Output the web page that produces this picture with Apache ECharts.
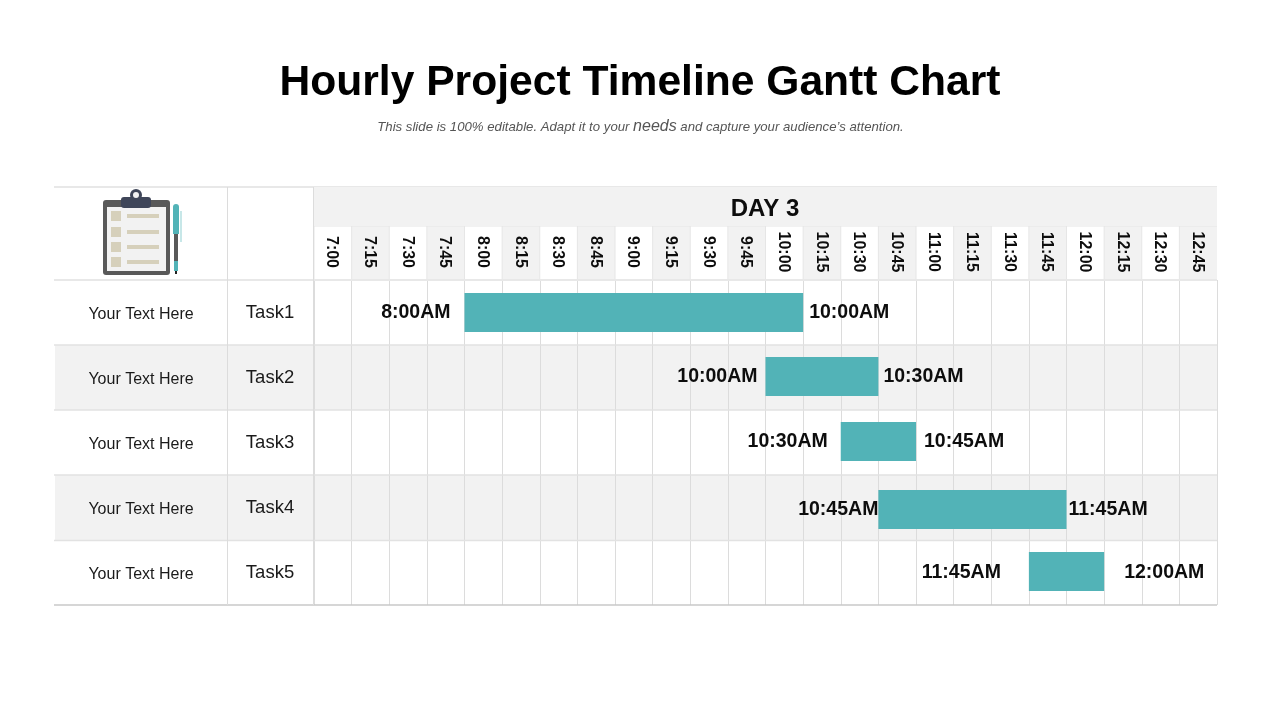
<!DOCTYPE html>
<html>
<head>
<meta charset="utf-8">
<style>html,body{margin:0;padding:0;background:#fff}#c{width:1280px;height:720px}</style>
<script src="https://cdn.jsdelivr.net/npm/echarts@6/dist/echarts.min.js"></script>
</head>
<body>
<div id="c"></div>
<script>
const timeSlots = ['7:00','7:15','7:30','7:45','8:00','8:15','8:30','8:45','9:00','9:15','9:30','9:45','10:00','10:15','10:30','10:45','11:00','11:15','11:30','11:45','12:00','12:15','12:30','12:45'];
const tasks = ['Task1','Task2','Task3','Task4','Task5'];
const notes = ['Your Text Here','Your Text Here','Your Text Here','Your Text Here','Your Text Here'];
const startSlots = ['8:00','10:00','10:30','10:45','11:45'];
const endSlots = ['10:00','10:30','10:45','11:45','12:00'];

// Layout and style (separate from the data)
const FONT = '"Liberation Sans", Arial, sans-serif';
const TEXT = '#0d0d0d', BAND = '#f2f2f2', LINE = '#dcdcdc', TEAL = '#52b3b7';
const G = {left: 314, right: 1217, top: 280, bottom: 605, headTop: 187, headMid: 226, tableLeft: 54};
const barNudge = [0, -1, -1, 2, -1];
const startGap = [14, 8, 13, 0, 28];
const endGap = [6, 5, 8, 2, 20];
const labelNudge = [0, -1, -1, 2, 0];

const ganttData = tasks.map((t, i) => [timeSlots.indexOf(startSlots[i]), timeSlots.indexOf(endSlots[i]), i]);

function renderBar(params, api) {
  const row = api.value(2);
  const unit = api.size([1, 1]);
  const a = api.coord([api.value(0), row]);
  const b = api.coord([api.value(1), row]);
  const x0 = a[0] - unit[0] / 2, x1 = b[0] + unit[0] / 2;
  const h = 39, cy = a[1] + barNudge[row], ly = a[1] + labelNudge[row];
  const lab = {fontFamily: FONT, fontWeight: 'bold', fontSize: 19.5, fill: TEXT, verticalAlign: 'middle'};
  return {type: 'group', children: [
    {type: 'rect', shape: {x: x0, y: cy - h / 2, width: x1 - x0, height: h}, style: {fill: TEAL}},
    {type: 'text', style: Object.assign({}, lab, {x: x0 - startGap[row], y: ly, text: startSlots[row] + 'AM', align: 'right'})},
    {type: 'text', style: Object.assign({}, lab, {x: x1 + endGap[row], y: ly, text: endSlots[row] + 'AM', align: 'left'})}
  ]};
}

function renderRowEdge(params, api) {
  const row = api.value(0);
  const unit = api.size([1, 1]);
  const c = api.coord([0, row]);
  const top = c[1] - unit[1] / 2, children = [];
  if (row % 2 === 1) {
    children.push({type: 'rect', shape: {x: G.tableLeft + 1, y: top, width: G.left - G.tableLeft - 1, height: unit[1]}, style: {fill: BAND}});
  }
  return {type: 'group', children};
}

function renderHeadCell(params, api) {
  const i = api.value(0);
  const unit = api.size([1, 1]);
  const c = api.coord([i, 0]);
  const x = c[0] - unit[0] / 2;
  const children = [];
  if (i % 2 === 1) {
    children.push({type: 'rect', shape: {x, y: G.headMid, width: unit[0], height: G.top - G.headMid}, style: {fill: BAND}});
  }
  children.push({type: 'line', shape: {x1: x, y1: G.headMid, x2: x, y2: G.top}, style: {stroke: '#e6e6e6', lineWidth: 1}});
  return {type: 'group', children};
}

const hLine = (x1, y, x2, stroke, lineWidth) => ({type: 'line', z: 5, shape: {x1, y1: y, x2, y2: y}, style: {stroke, lineWidth}});
const vLine = (x, y1, y2) => ({type: 'line', z: 5, shape: {x1: x, y1, x2: x, y2}, style: {stroke: LINE, lineWidth: 1}});
const box = (x, y, width, height, fill, r) => ({type: 'rect', z: 6, shape: {x, y, width, height, r: r || 0}, style: {fill}});

const icon = [
  box(103, 200, 67, 75, '#595959', 3),
  box(107, 207, 59, 64, '#f2f2f2'),
  {type: 'circle', z: 6, shape: {cx: 136, cy: 195, r: 6}, style: {fill: '#3f4659'}},
  box(121, 197, 30, 11, '#3f4659', 3),
  {type: 'circle', z: 7, shape: {cx: 136, cy: 195, r: 3}, style: {fill: '#f2f2f2'}},
  box(111, 211, 10, 10, '#d6d0bb'), box(111, 227, 10, 10, '#d6d0bb'),
  box(111, 242, 10, 10, '#d6d0bb'), box(111, 257, 10, 10, '#d6d0bb'),
  box(127, 214, 32, 4, '#d6d0bb'), box(127, 230, 32, 4, '#d6d0bb'),
  box(127, 245, 32, 4, '#d6d0bb'), box(127, 260, 32, 4, '#d6d0bb'),
  box(173, 204, 6, 30, TEAL, [3, 3, 0, 0]),
  box(174, 234, 4, 27, '#595959'),
  box(174, 261, 4, 10, TEAL),
  box(175, 271, 2, 3, '#222'),
  box(180.5, 211, 1, 31, '#8fd0d2')
];

const chart = echarts.init(document.getElementById('c'), null, {renderer: 'canvas'});
chart.setOption({
  animation: false,
  backgroundColor: '#fff',
  grid: {left: G.left, top: G.top, width: G.right - G.left, height: G.bottom - G.top, containLabel: false},
  xAxis: {
    type: 'category', position: 'top', data: timeSlots, boundaryGap: true, z: 3,
    axisLine: {show: false}, axisTick: {show: false},
    axisLabel: {interval: 0, rotate: 90, margin: 28, align: 'center', verticalAlign: 'middle',
      formatter: v => '{t|' + v + '}',
      rich: {t: {fontFamily: FONT, fontWeight: 'bold', fontSize: 16, color: TEXT, padding: [2, 0, 0, 0]}}},
    splitLine: {show: true, interval: 0, lineStyle: {color: LINE, width: 1}}
  },
  yAxis: [
    {type: 'category', inverse: true, data: tasks, position: 'left', z: 3,
      axisLine: {show: false}, axisTick: {show: false},
      axisLabel: {interval: 0, margin: 44, align: 'center', formatter: v => '{t|' + v + '}',
        rich: {t: {fontFamily: FONT, fontSize: 18.5, color: '#1a1a1a', padding: [1, 0, 0, 0]}}},
      splitLine: {show: false},
      splitArea: {show: true, interval: 0, areaStyle: {color: ['#ffffff', BAND]}}},
    {type: 'category', inverse: true, data: notes, position: 'left', offset: 173, z: 3,
      axisLine: {show: false}, axisTick: {show: false},
      axisLabel: {interval: 0, margin: 0, align: 'center', formatter: v => '{t|' + v + '}',
        rich: {t: {fontFamily: FONT, fontSize: 16, color: '#1a1a1a', padding: [4, 0, 0, 0]}}},
      splitLine: {show: false}}
  ],
  graphic: [
    {type: 'text', z: 6, style: {x: 640, y: 83, text: 'Hourly Project Timeline Gantt Chart', align: 'center', verticalAlign: 'middle',
      fontFamily: FONT, fontWeight: 'bold', fontSize: 42.6, fill: '#000'}},
    {type: 'text', z: 6, style: {x: 640.5, y: 127, align: 'center', verticalAlign: 'middle',
      text: '{a|This slide is 100% editable. Adapt it to your }{b|needs}{a| and capture your audience\u2019s attention.}',
      rich: {a: {fontFamily: FONT, fontStyle: 'italic', fontSize: 13.2, fill: '#555', color: '#555'},
             b: {fontFamily: FONT, fontStyle: 'italic', fontSize: 16, fill: '#555', color: '#555'}}}},
    box(G.left, G.headTop, G.right - G.left, G.headMid - G.headTop, BAND),
    {type: 'text', z: 6, style: {x: 765, y: 209, text: 'DAY 3', align: 'center', verticalAlign: 'middle',
      fontFamily: FONT, fontWeight: 'bold', fontSize: 24, fill: TEXT}},
    hLine(G.tableLeft, G.headTop, G.right, '#e8e8e8', 2),
    hLine(G.left, G.headMid, G.right, '#e6e6e6', 1),
    hLine(G.tableLeft, G.top, G.right, '#e8e8e8', 2),
    hLine(G.tableLeft, 345, G.right, '#e2e2e2', 1.5),
    hLine(G.tableLeft, 410, G.right, '#e2e2e2', 1.5),
    hLine(G.tableLeft, 475, G.right, '#e2e2e2', 1.5),
    hLine(G.tableLeft, 540.5, G.right, '#e2e2e2', 1.5),
    hLine(G.tableLeft, 605, G.right, '#c8c8c8', 1.5),
    vLine(227.5, G.headTop, G.bottom),
    vLine(313.5, G.headTop, G.bottom)
  ].concat(icon),
  series: [
    {type: 'custom', name: 'Header cells', silent: true, z: 1, renderItem: renderHeadCell,
      data: timeSlots.map((s, i) => [i]), encode: {x: 0}},
    {type: 'custom', name: 'Row bands', silent: true, z: 1, renderItem: renderRowEdge,
      data: tasks.map((t, i) => [i]), encode: {y: 0}},
    {type: 'custom', name: 'Tasks', z: 10, renderItem: renderBar, data: ganttData, encode: {x: [0, 1], y: 2}}
  ]
});
</script>
</body>
</html>
